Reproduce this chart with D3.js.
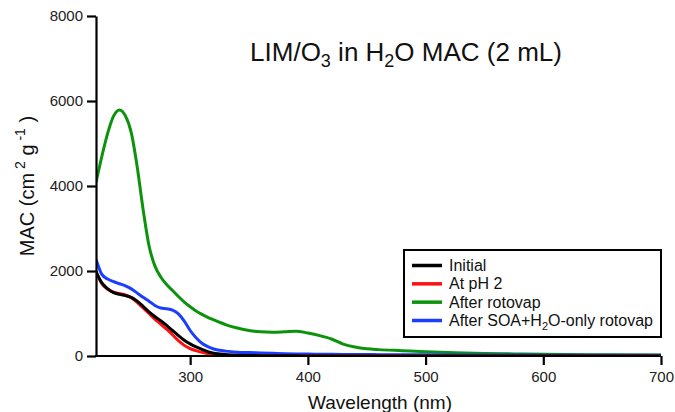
<!DOCTYPE html>
<html>
<head>
<meta charset="utf-8">
<script src="https://cdn.jsdelivr.net/npm/d3@7"></script>
<style>
  html, body { margin: 0; padding: 0; background: #fff; }
  svg { display: block; font-family: "Liberation Sans", Arial, sans-serif; }
</style>
</head>
<body>
<svg id="chart" width="675" height="412"></svg>
<script>
// Wavelength grid (nm) shared by all spectra
const wavelengths = [220,225,230,235,240,245,250,255,260,265,270,275,280,285,290,295,300,305,310,315,320,
  330,340,350,360,370,380,390,400,410,420,430,440,450,460,480,500,525,550,575,600,650,700];

// Mass absorption coefficient (cm^2 g^-1) for each treatment
const initialMAC = [1980,1720,1580,1490,1450,1420,1380,1290,1170,1040,930,830,720,600,480,370,285,215,155,100,65,
  35,20,12,8,5,4,3,2,2,1,1,1,1,0,0,0,0,0,0,0,0,0];
const ph2MAC = [2000,1700,1570,1500,1470,1440,1370,1260,1130,1000,870,750,630,500,360,250,175,125,85,55,38,
  18,10,6,4,3,2,2,1,1,1,0,0,0,0,0,0,0,0,0,0,0,0];
const rotovapMAC = [4080,4700,5250,5650,5790,5650,5250,4450,3450,2600,2120,1860,1680,1540,1400,1270,1160,1060,980,910,850,
  740,660,600,570,560,570,585,540,480,400,280,210,170,150,125,100,75,60,50,40,30,23];
const waterRotovapMAC = [2280,1920,1810,1750,1700,1650,1580,1480,1380,1290,1190,1130,1110,1080,990,820,600,430,300,220,165,
  115,90,80,70,62,55,50,45,42,40,38,36,34,32,30,28,26,24,22,20,17,15];

const seriesNames = ["Initial", "At pH 2", "After rotovap", "After SOA+H\u2082O-only rotovap"];
const seriesColors = ["#000000", "#ff1010", "#0c930c", "#1a3dff"];
const seriesValues = [initialMAC, ph2MAC, rotovapMAC, waterRotovapMAC];

const xTicks = [300, 400, 500, 600, 700];
const yTicks = [0, 2000, 4000, 6000, 8000];

const svg = d3.select("#chart");

const x = d3.scaleLinear().domain([220, 700]).range([96, 661]);
const y = d3.scaleLinear().domain([0, 8000]).range([356, 16]);

// Spectra
const line = d3.line()
  .x(d => x(d[0]))
  .y(d => y(d[1]))
  .curve(d3.curveMonotoneX);

svg.append("defs").append("clipPath").attr("id", "plot")
  .append("rect").attr("x", 96).attr("y", 10).attr("width", 570).attr("height", 347);

const plot = svg.append("g").attr("clip-path", "url(#plot)");
// draw green first so the low curves sit on top, then blue, red, black
[2, 3, 1, 0].forEach(i => {
  plot.append("path")
    .datum(wavelengths.map((w, k) => [w, seriesValues[i][k]]))
    .attr("fill", "none")
    .attr("stroke", seriesColors[i])
    .attr("stroke-width", 3)
    .attr("stroke-linejoin", "round")
    .attr("d", line);
});

// Axes
const xAxis = svg.append("g")
  .attr("transform", `translate(0,${y(0)})`)
  .call(d3.axisBottom(x).tickValues(xTicks).tickFormat(d3.format("d"))
    .tickSize(9).tickPadding(6).tickSizeOuter(0));
const yAxis = svg.append("g")
  .attr("transform", `translate(${x(220)},0)`)
  .call(d3.axisLeft(y).tickValues(yTicks).tickFormat(d3.format("d"))
    .tickSize(9).tickPadding(4).tickSizeOuter(0));

[xAxis, yAxis].forEach(a => {
  a.select(".domain").attr("stroke", "#000").attr("stroke-width", 2.2);
  a.selectAll(".tick line").attr("stroke", "#000").attr("stroke-width", 2.2);
  a.selectAll(".tick text").attr("fill", "#222").style("font-size", "15px")
    .style("font-family", "'Liberation Sans', Arial, sans-serif");
});
// extend the x axis line under the y axis so the corner joins cleanly
xAxis.select(".domain").attr("d", `M${x(220) - 1.1},0H${x(700)}`);

// Axis titles
svg.append("text")
  .attr("x", 380).attr("y", 409)
  .attr("text-anchor", "middle")
  .style("font-size", "19px").attr("fill", "#111")
  .text("Wavelength (nm)");

const yl = svg.append("text")
  .attr("transform", "translate(34,186) rotate(-90)")
  .attr("text-anchor", "middle")
  .style("font-size", "20px").attr("fill", "#111");
yl.append("tspan").text("MAC (cm");
yl.append("tspan").attr("dy", -9).style("font-size", "14px").text(" 2");
yl.append("tspan").attr("dy", 9).text(" g");
yl.append("tspan").attr("dy", -9).style("font-size", "14px").text(" -1");
yl.append("tspan").attr("dy", 9).text(" )");

// Chart title with subscripts
const title = svg.append("text")
  .attr("x", 406).attr("y", 61)
  .attr("text-anchor", "middle")
  .style("font-size", "26px").attr("fill", "#111");
title.append("tspan").text("LIM/O");
title.append("tspan").attr("dy", 6).style("font-size", "18px").text("3");
title.append("tspan").attr("dy", -6).text(" in H");
title.append("tspan").attr("dy", 6).style("font-size", "18px").text("2");
title.append("tspan").attr("dy", -6).text("O MAC (2 mL)");

// Legend
const legend = svg.append("g");
legend.append("rect")
  .attr("x", 404).attr("y", 250).attr("width", 257).attr("height", 87)
  .attr("fill", "#fff").attr("stroke", "#000").attr("stroke-width", 2);
const rowY = d3.scalePoint().domain(d3.range(4)).range([265.5, 320.5]);
seriesNames.forEach((name, i) => {
  legend.append("line")
    .attr("x1", 412).attr("x2", 442)
    .attr("y1", rowY(i)).attr("y2", rowY(i))
    .attr("stroke", seriesColors[i]).attr("stroke-width", 3.5);
  const t = legend.append("text")
    .attr("x", 449).attr("y", rowY(i) + 5.5)
    .style("font-size", "16px").attr("fill", "#111");
  if (i === 3) {
    t.append("tspan").text("After SOA+H");
    t.append("tspan").attr("dy", 4).style("font-size", "11px").text("2");
    t.append("tspan").attr("dy", -4).text("O-only rotovap");
  } else {
    t.text(name);
  }
});
</script>
</body>
</html>
